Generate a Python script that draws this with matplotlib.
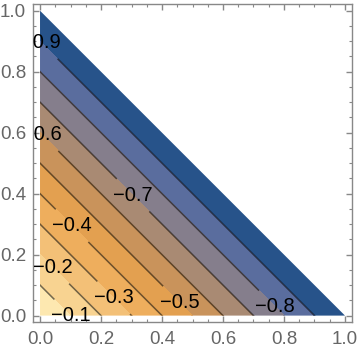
import numpy as np
import matplotlib
matplotlib.use("Agg")
import matplotlib.pyplot as plt
from matplotlib.patches import Polygon

plt.rcParams['font.family'] = ['Liberation Sans', 'DejaVu Sans']

# contour levels of f(x, y) = -(x + y) over the triangle x + y <= 1
levels = [-1.0, -0.9, -0.8, -0.7, -0.6, -0.5, -0.4, -0.3, -0.2, -0.1, 0.0]
band_colors = ['#27538a', '#5a6d9e', '#857e8c', '#a98a73', '#c9935b',
               '#e3a050', '#eeae5d', '#f3c077', '#f8d391', '#fde8b0']
line_levels = [-0.9, -0.8, -0.7, -0.6, -0.5, -0.4, -0.3, -0.2, -0.1]
label_pos = [(0.005, 0.897), (0.005, 0.592), (0.30, 0.39), (0.10, 0.29),
             (0.039, 0.155), (0.24, 0.057), (0.098, -0.003), (0.456, 0.042),
             (0.772, 0.029)]
ticks = [0.0, 0.2, 0.4, 0.6, 0.8, 1.0]
tick_labels = ['0.0', '0.2', '0.4', '0.6', '0.8', '1.0']

g = np.linspace(-0.05, 1.05, 401)
X, Y = np.meshgrid(g, g)
Z = -(X + Y)

fig = plt.figure(figsize=(3.62, 3.53), dpi=100)
ax = fig.add_axes([33 / 362, 1 - 321.7 / 353, (351.7 - 33) / 362, (321.7 - 4) / 353])

tri = Polygon([(0, 0), (1, 0), (0, 1)], closed=True, transform=ax.transData,
              facecolor='none', edgecolor='none')
ax.add_patch(tri)

cf = ax.contourf(X, Y, Z, levels=levels, colors=band_colors)
cf.set_clip_path(tri)
cl = ax.contour(X, Y, Z, levels=line_levels, colors='#000000', alpha=0.55,
                linewidths=1.1, linestyles='solid')
cl.set_clip_path(tri)

texts = ax.clabel(cl, manual=label_pos, inline=True, inline_spacing=2,
                  fontsize=14.5, colors='black',
                  fmt=lambda v: f"{v:.1f}".replace('-', '\u2212'))
for t in texts:
    t.set_rotation(0)
    t.set_alpha(1.0)
    t.set_color('black')
    t.set_clip_on(True)
    t.set_clip_path(ax.patch)

ax.set_xlim(-0.023, 1.022)
ax.set_ylim(-0.02, 1.022)
ax.set_xticks(ticks)
ax.set_xticklabels(tick_labels)
ax.set_yticks(ticks)
ax.set_yticklabels(tick_labels)
ax.set_xticks(np.arange(0, 1.001, 0.05), minor=True)
ax.set_yticks(np.arange(0, 1.001, 0.05), minor=True)
ax.tick_params(which='both', direction='in', top=True, right=True,
               color='#888888', labelcolor='#666666')
ax.tick_params(which='major', length=4, width=1, labelsize=13.5)
ax.tick_params(axis='y', which='major', pad=5)
ax.tick_params(axis='x', which='major', pad=7)
ax.tick_params(which='minor', length=2.3, width=0.8)
for s in ax.spines.values():
    s.set_color('#888888')
    s.set_linewidth(1)

plt.savefig('out.png', dpi=100)
